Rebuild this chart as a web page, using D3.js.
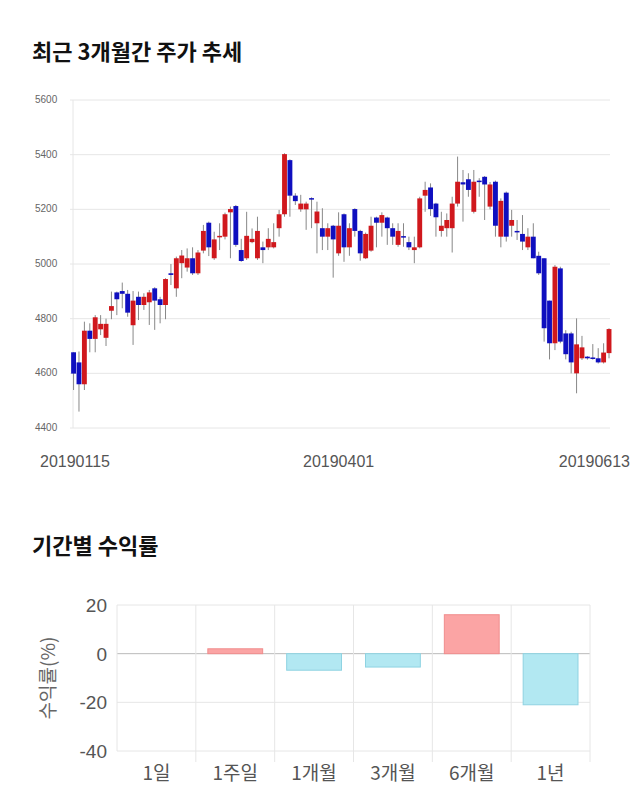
<!DOCTYPE html>
<html><head><meta charset="utf-8">
<script src="https://cdn.jsdelivr.net/npm/d3@7"></script>
<style>body{margin:0;background:#fff;font-family:"Noto Sans CJK KR","Noto Sans",sans-serif}</style>
</head><body><svg id="c" width="640" height="810"></svg>
<script>
// candles: open, close, high, low
var opens = [4677,4640,4560,4756,4726,4761,4730,4829,4896,4901,4891,4776,4880,4850,4860,4911,4871,4850,4966,4911,
  5003,4987,5021,4966,5049,5151,5021,5098,5100,5189,5212,5051,5021,5080,5021,5061,5061,5061,5131,5182,
  5380,5250,5200,5200,5241,5149,5131,5100,5140,5039,5182,5061,5201,5121,5021,5049,5170,5151,5170,5131,
  5070,5102,5080,5051,5061,5250,5280,5221,5121,5131,5131,5221,5299,5310,5191,5305,5319,5210,5301,5100,
  5261,5140,5121,5110,5061,5100,5030,5021,4866,4710,4984,4746,4746,4600,4655,4661,4658,4655,4640,4674];
var closes = [4599,4560,4756,4726,4805,4781,4781,4846,4871,4891,4822,4866,4850,4880,4896,4866,4850,4945,4960,5021,
  5031,5021,4966,5042,5121,5061,5090,5103,5182,5201,5070,5011,5103,5092,5121,5051,5092,5080,5182,5402,
  5250,5230,5221,5221,5239,5192,5100,5131,5090,5140,5061,5131,5121,5039,5110,5140,5151,5179,5131,5100,
  5121,5100,5061,5061,5240,5271,5201,5171,5140,5161,5221,5301,5291,5271,5301,5302,5291,5291,5140,5231,
  5100,5161,5118,5082,5100,5021,4966,4765,4710,4990,4716,4670,4640,4706,4695,4655,4654,4640,4676,4762];
var highs = [4677,4680,4789,4783,4813,4813,4800,4899,4899,4932,4905,4901,4899,4893,4905,4915,4880,4948,5000,5027,
  5051,5057,5061,5051,5143,5155,5118,5149,5188,5210,5216,5092,5191,5130,5173,5082,5131,5149,5198,5405,
  5383,5259,5253,5228,5244,5228,5204,5149,5143,5189,5185,5149,5204,5125,5115,5173,5173,5189,5173,5149,
  5149,5149,5100,5100,5246,5301,5295,5224,5191,5185,5246,5393,5344,5332,5344,5314,5322,5300,5305,5240,
  5265,5198,5161,5179,5131,5149,5045,5021,4866,4996,4990,4758,4752,4801,4737,4663,4707,4692,4710,4765];
var lows = [4539,4460,4539,4677,4677,4740,4700,4798,4813,4838,4807,4704,4795,4832,4777,4759,4783,4798,4923,4880,
  4948,4972,4960,4960,5039,5029,5015,5051,5090,5021,5063,5008,5015,5076,5015,5003,5051,5057,5100,5173,
  5173,5216,5191,5125,5131,5039,5051,5051,4950,5030,5008,5030,5100,5012,5018,5045,5061,5100,5070,5070,
  5063,5063,5051,5003,5057,5191,5176,5100,5100,5100,5042,5210,5155,5246,5185,5246,5161,5200,5100,5061,
  5082,5100,5088,5051,5051,5021,4960,4716,4651,4685,4710,4651,4600,4527,4649,4650,4650,4636,4636,4655];
var dateLabels = ["20190115", "20190401", "20190613"];
var dateIdx = [0, 49, 99];
var priceTicks = [4400, 4600, 4800, 5000, 5200, 5400, 5600];

var periods = ["1일", "1주일", "1개월", "3개월", "6개월", "1년"];
var returns = [0, 2.0, -6.8, -5.5, 16.0, -21.0];
var retTicks = [-40, -20, 0, 20];

var svg = d3.select("#c");
svg.append("text").attr("x", 32).attr("y", 60).text("최근 3개월간 주가 추세")
  .style("font-size", "22px").style("font-weight", "bold").style("fill", "#111");
svg.append("text").attr("x", 32).attr("y", 554).text("기간별 수익률")
  .style("font-size", "22px").style("font-weight", "bold").style("fill", "#111");

// candlestick chart
var idx = d3.range(opens.length);
var x = d3.scaleBand().domain(idx).range([70.6, 612]).padding(0.1);
var y = d3.scaleLinear().domain([4400, 5600]).range([428, 100]);

svg.selectAll(".pg").data(priceTicks).enter().append("line")
  .attr("x1", 70).attr("x2", 610).attr("y1", d => y(d)).attr("y2", d => y(d))
  .style("stroke", "#e6e6e6");
svg.append("line").attr("x1", 73).attr("x2", 73).attr("y1", 100).attr("y2", 428).style("stroke", "#e6e6e6");
svg.selectAll(".pt").data(priceTicks).enter().append("text")
  .attr("x", 35).attr("y", d => y(d) + 3).text(d => d)
  .style("font-size", "10px").style("fill", "#666").style("font-family", "Liberation Sans, sans-serif");

var cx = i => x(i) + x.bandwidth() / 2;
svg.selectAll(".wick").data(idx).enter().append("line")
  .attr("x1", cx).attr("x2", cx)
  .attr("y1", i => y(highs[i])).attr("y2", i => y(lows[i]))
  .style("stroke", "#888").style("stroke-width", 1);
svg.selectAll(".body").data(idx).enter().append("rect")
  .attr("x", i => x(i)).attr("width", x.bandwidth())
  .attr("y", i => y(Math.max(opens[i], closes[i])))
  .attr("height", i => Math.max(1.5, Math.abs(y(opens[i]) - y(closes[i]))))
  .style("fill", i => closes[i] >= opens[i] ? "#d0181d" : "#0f0fbf");

svg.selectAll(".dl").data(dateLabels).enter().append("text")
  .attr("x", (d, k) => k === 0 ? 40 : k === 2 ? 630 : cx(dateIdx[k]))
  .attr("y", 467)
  .attr("text-anchor", (d, k) => k === 0 ? "start" : k === 2 ? "end" : "middle")
  .text(d => d).style("font-size", "16px").style("fill", "#555")
  .style("font-family", "Liberation Sans, sans-serif");

// returns bar chart
var bx = d3.scaleBand().domain(periods).range([117, 590]);
var by = d3.scaleLinear().domain([-40, 20]).range([751, 605]);
svg.selectAll(".rg").data(retTicks).enter().append("line")
  .attr("x1", 117).attr("x2", 590).attr("y1", d => by(d)).attr("y2", d => by(d))
  .style("stroke", d => d === 0 ? "#bbb" : "#e6e6e6");
svg.selectAll(".vg").data(d3.range(periods.length + 1)).enter().append("line")
  .attr("x1", k => 117 + k * bx.bandwidth()).attr("x2", k => 117 + k * bx.bandwidth())
  .attr("y1", 605).attr("y2", k => k === 0 ? 751 : 762)
  .style("stroke", "#e6e6e6");
svg.selectAll(".rt").data(retTicks).enter().append("text")
  .attr("x", 107).attr("y", d => by(d) + 7).attr("text-anchor", "end").text(d => d)
  .style("font-size", "19px").style("fill", "#555").style("font-family", "Liberation Sans, sans-serif");
svg.selectAll(".bar").data(periods).enter().append("rect")
  .attr("x", d => bx(d) + 12).attr("width", bx.bandwidth() - 24)
  .attr("y", (d, k) => by(Math.max(0, returns[k])))
  .attr("height", (d, k) => Math.abs(by(returns[k]) - by(0)))
  .style("fill", (d, k) => returns[k] >= 0 ? "#fba4a4" : "#b2e8f2")
  .style("stroke", (d, k) => returns[k] >= 0 ? "#f08c8c" : "#8fd3e2");
svg.selectAll(".pl").data(periods).enter().append("text")
  .attr("x", d => bx(d) + bx.bandwidth() / 2).attr("y", 780).attr("text-anchor", "middle")
  .text(d => d).style("font-size", "19px").style("fill", "#555");
svg.append("text").attr("transform", "translate(55,678) rotate(-90)")
  .attr("text-anchor", "middle").text("수익률(%)")
  .style("font-size", "19px").style("fill", "#666");
</script></body></html>
